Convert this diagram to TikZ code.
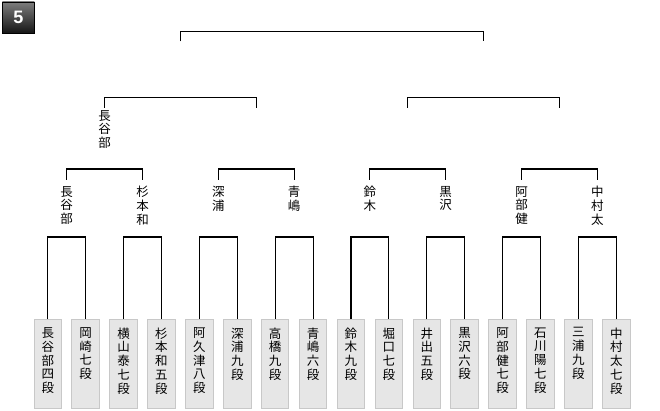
\documentclass[tikz,border=0pt]{standalone}
\usepackage{fontspec}
\newfontfamily\cjk{Noto Sans CJK JP}
\newfontfamily\badgefont{Liberation Sans}
\definecolor{boxfill}{RGB}{230,230,230}
\definecolor{boxborder}{RGB}{200,200,200}
\definecolor{badgetop}{RGB}{125,125,125}
\definecolor{badgebot}{RGB}{22,22,22}
\begin{document}
\begin{tikzpicture}[x=1pt,y=-1pt,
  line/.style={line width=1.1pt, black},
  pbox/.style={draw=boxborder, fill=boxfill, line width=0.9pt, minimum width=27.5pt, minimum height=89pt, anchor=north, inner sep=0pt},
  vtext/.style={anchor=north, inner sep=0pt, align=center, font=\cjk\fontsize{12.5}{13.7}\selectfont},
  badgebox/.style={draw=black, line width=0.8pt, top color=badgetop, bottom color=badgebot, minimum width=32pt, minimum height=31pt, anchor=north west, inner sep=0pt, text=white, font=\badgefont\bfseries\fontsize{18}{18}\selectfont}
]
\useasboundingbox (0,0) rectangle (660,410);

% badge
\node[badgebox] (badge) at (2,1.5) {5};

% player boxes
\foreach \i/\t in {1/{長\\谷\\部\\四\\段},2/{岡\\崎\\七\\段},3/{横\\山\\泰\\七\\段},4/{杉\\本\\和\\五\\段},
  5/{阿\\久\\津\\八\\段},6/{深\\浦\\九\\段},7/{高\\橋\\九\\段},8/{青\\嶋\\六\\段},
  9/{鈴\\木\\九\\段},10/{堀\\口\\七\\段},11/{井\\出\\五\\段},12/{黒\\沢\\六\\段},
  13/{阿\\部\\健\\七\\段},14/{石\\川\\陽\\七\\段},15/{三\\浦\\九\\段},16/{中\\村\\太\\七\\段}}{
  \node[pbox] (b\i) at ({47.75+37.9*(\i-1)},319) {};
  \node[vtext] (t\i) at ({47.75+37.9*(\i-1)},327.5) {\t};
}

% round 1 brackets
\foreach \j in {1,...,8}{
  \pgfmathtruncatemacro{\a}{2*\j-1}
  \pgfmathtruncatemacro{\b}{2*\j}
  \draw[line] (b\a.north) -- ++(0,-82) -| (b\b.north);
}

% round 2 names
\foreach \j/\t in {1/{長\\谷\\部},2/{杉\\本\\和},3/{深\\浦},4/{青\\嶋},5/{鈴\\木},6/{黒\\沢},7/{阿\\部\\健},8/{中\\村\\太}}{
  \node[vtext] (n\j) at ({66.7+75.8*(\j-1)},186) {\t};
  \coordinate (k\j) at ({66.7+75.8*(\j-1)},179.5);
}
\foreach \j in {1,...,4}{
  \pgfmathtruncatemacro{\a}{2*\j-1}
  \pgfmathtruncatemacro{\b}{2*\j}
  \draw[line] (k\a) -- ++(0,-10.5) -| (k\b);
}

% round 3
\node[vtext] (s1) at (104.6,110) {長\\谷\\部};
\coordinate (q1) at (104.6,107.7);
\coordinate (q2) at (256.2,107.7);
\coordinate (q3) at (407.8,107.7);
\coordinate (q4) at (559.5,107.7);
\draw[line] (q1) -- ++(0,-10) -| (q2);
\draw[line] (q3) -- ++(0,-10) -| (q4);

% final
\coordinate (f1) at (180.4,41.3);
\coordinate (f2) at (483.6,41.3);
\draw[line] (f1) -- ++(0,-9.6) -| (f2);
\end{tikzpicture}
\end{document}
